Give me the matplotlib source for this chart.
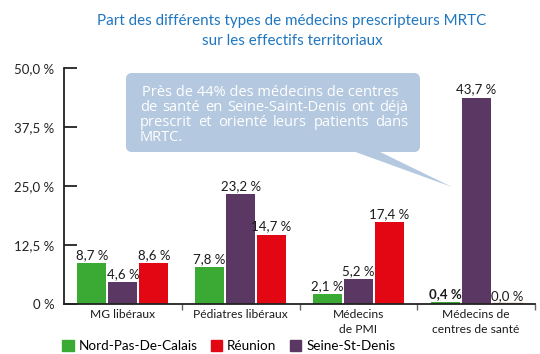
import matplotlib
matplotlib.use("Agg")
import matplotlib.pyplot as plt
from matplotlib.patches import FancyBboxPatch, Polygon, Patch

plt.rcParams['font.family'] = ['Lato', 'DejaVu Sans']

# ---- data -------------------------------------------------------------
categories = ["MG libéraux", "Pédiatres libéraux", "Médecins\nde PMI",
              "Médecins de\ncentres de santé"]
nord_pas_de_calais = [8.7, 7.8, 2.1, 0.4]
seine_st_denis = [4.6, 23.2, 5.2, 43.7]
reunion = [8.6, 14.7, 17.4, 0.0]
y_ticks = [0, 12.5, 25, 37.5, 50]
y_tick_labels = ["0 %", "12,5 %", "25,0 %", "37,5 %", "50,0 %"]
title_lines = ["Part des différents types de médecins prescripteurs MRTC",
               "sur les effectifs territoriaux"]
callout_lines = ["Près de 44% des médecins de centres",
                 "de santé en Seine-Saint-Denis ont déjà",
                 "prescrit et orienté leurs patients dans",
                 "MRTC."]

# ---- style ------------------------------------------------------------
GREEN = "#3aaa35"
PURPLE = "#5b3764"
RED = "#e30613"
TITLE_BLUE = "#1f76c0"
CALLOUT = "#b4c8df"
TEXT = "#1a1a1a"

W, H = 540, 354
fig = plt.figure(figsize=(W / 100, H / 100), dpi=100)
renderer = fig.canvas.get_renderer()


def fitted_size(text, family, target_px, base=10.0, weight="normal"):
    """Font size at which `text` is `target_px` pixels wide."""
    t = fig.text(0, 0, text, fontsize=base, family=family, fontweight=weight)
    w = t.get_window_extent(renderer).width
    t.remove()
    return base * target_px / w


ax = fig.add_axes([64 / W, 1 - 304 / H, 471 / W, 236 / H])
ax.set_xlim(-0.5, 3.5)
ax.set_ylim(0, 50)

width = 0.245
offset = 0.263
series = [(nord_pas_de_calais, GREEN, -offset),
          (seine_st_denis, PURPLE, 0.0),
          (reunion, RED, offset)]
for values, color, dx in series:
    for i, v in enumerate(values):
        x = i + dx
        ax.bar(x, v, width=width, color=color, zorder=2)
        bold = (color == GREEN and i == 3)
        ax.annotate(f"{v:.1f} %".replace(".", ","), (x, v),
                    xytext=(0, 1.5), textcoords="offset points",
                    ha="center", va="bottom", fontsize=9.5, color=TEXT,
                    fontweight="bold" if bold else "normal")
# empty Réunion bar in the last group shows as a thin line
ax.plot([3 + offset - width / 2, 3 + offset + width / 2], [0.15, 0.15],
        color="#b0866a", lw=1, zorder=2)

for side in ("top", "right"):
    ax.spines[side].set_visible(False)
for side in ("left", "bottom"):
    ax.spines[side].set_linewidth(1.3)
    ax.spines[side].set_color("#222222")

ax.set_yticks(y_ticks)
ax.set_yticklabels(y_tick_labels)
ax.tick_params(axis="y", direction="in", length=9, width=1.3,
               pad=7, labelsize=9.5, colors="#222222")
ax.set_xticks([0.5, 1.5, 2.5, 3.5])
ax.set_xticklabels([])
ax.tick_params(axis="x", direction="out", length=4, width=1,
               color="#666666")

cat_fs = fitted_size(categories[0], ["Lato"], 65)
for i, label in enumerate(categories):
    ax.text(i, -0.022, label, transform=ax.get_xaxis_transform(),
            ha="center", va="top", fontsize=cat_fs, color=TEXT,
            linespacing=1.45)

title_fs = fitted_size(title_lines[0], ["Lato"], 389)
fig.text(292 / W, 1 - 21 / H, title_lines[0], ha="center", va="center",
         fontsize=title_fs, color=TITLE_BLUE)
fig.text(292 / W, 1 - 41 / H, title_lines[1], ha="center", va="center",
         fontsize=title_fs, color=TITLE_BLUE)

# legend
handles = [Patch(color=GREEN, label="Nord-Pas-De-Calais"),
           Patch(color=RED, label="Réunion"),
           Patch(color=PURPLE, label="Seine-St-Denis")]
leg_fs = fitted_size("Nord-Pas-De-Calais", ["Lato"], 118)
fig.legend(handles=handles, loc="lower left",
           bbox_to_anchor=(50 / W, -10 / H), ncol=3, frameon=False,
           fontsize=leg_fs, handlelength=0.85, handleheight=0.85,
           handletextpad=0.35, columnspacing=1.0)

# ---- callout ----------------------------------------------------------
ov = fig.add_axes([0, 0, 1, 1])
ov.set_xlim(0, W)
ov.set_ylim(H, 0)
ov.axis("off")
ov.add_patch(FancyBboxPatch((126, 73), 294, 79,
                            boxstyle="round,pad=0,rounding_size=6",
                            facecolor=CALLOUT, edgecolor="none"))
ov.add_patch(Polygon([(350, 150), (376, 150), (452, 187)],
                     closed=True, facecolor=CALLOUT, edgecolor="none"))

cfam = ["Open Sans", "DejaVu Sans"]
fs = fitted_size(callout_lines[0], cfam, 255)
left, right = 140, 408
baselines = [96, 111, 126, 141]
for k, (line, yb) in enumerate(zip(callout_lines, baselines)):
    words = line.split(" ")
    justify = 0 < k < len(callout_lines) - 1
    if not justify:
        x0 = 142 if k == 0 else left
        ov.text(x0, yb, line, fontsize=fs, family=cfam, color="white",
                ha="left", va="baseline")
        continue
    arts = [ov.text(0, yb, w, fontsize=fs, family=cfam, color="white",
                    ha="left", va="baseline") for w in words]
    widths = [a.get_window_extent(renderer).width for a in arts]
    gap = (right - left - sum(widths)) / (len(words) - 1)
    x = left
    for a, wd in zip(arts, widths):
        a.set_x(x)
        x += wd + gap

fig.savefig("out.png", dpi=100)
